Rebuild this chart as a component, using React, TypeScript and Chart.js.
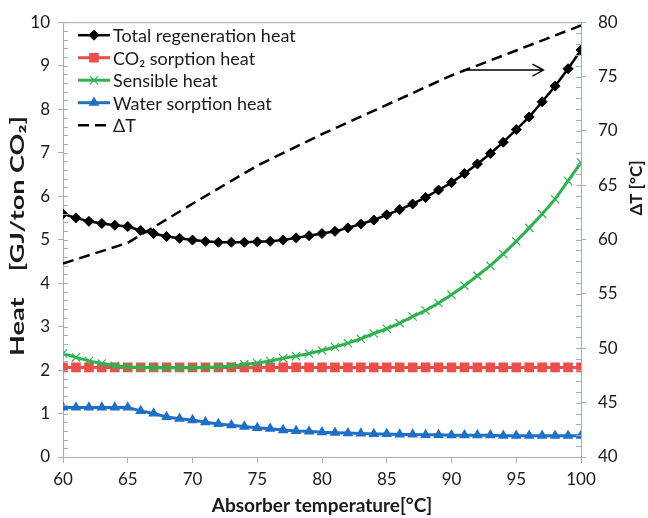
import React, { useEffect, useRef } from 'react';
import { Chart, registerables } from 'chart.js';
import { drawPoint } from 'chart.js/helpers';

Chart.register(...registerables);

// ---------------- data ----------------
const temperatures = [
  60, 61, 62, 63, 64, 65, 66, 67, 68, 69, 70, 71, 72, 73, 74, 75, 76, 77, 78, 79, 80,
  81, 82, 83, 84, 85, 86, 87, 88, 89, 90, 91, 92, 93, 94, 95, 96, 97, 98, 99, 100,
];
const totalRegenerationHeat = [
  5.59, 5.5, 5.42, 5.37, 5.33, 5.3, 5.21, 5.14, 5.07, 5.03, 4.99, 4.96, 4.94, 4.94, 4.94, 4.95, 4.96, 4.99, 5.04, 5.09, 5.14,
  5.19, 5.27, 5.36, 5.45, 5.57, 5.69, 5.82, 5.97, 6.14, 6.31, 6.52, 6.74, 6.98, 7.24, 7.53, 7.82, 8.17, 8.53, 8.93, 9.36,
];
const co2SorptionHeat = [
  2.06, 2.06, 2.06, 2.06, 2.06, 2.06, 2.06, 2.06, 2.06, 2.06, 2.06, 2.06, 2.06, 2.06, 2.06, 2.06, 2.06, 2.06, 2.06, 2.06, 2.06,
  2.06, 2.06, 2.06, 2.06, 2.06, 2.06, 2.06, 2.06, 2.06, 2.06, 2.06, 2.06, 2.06, 2.06, 2.06, 2.06, 2.06, 2.06, 2.06, 2.06,
];
const sensibleHeat = [
  2.38, 2.29, 2.21, 2.15, 2.1, 2.07, 2.06, 2.05, 2.05, 2.05, 2.05, 2.06, 2.07, 2.09, 2.13, 2.16, 2.21, 2.27, 2.32, 2.38, 2.45,
  2.53, 2.62, 2.72, 2.84, 2.95, 3.08, 3.23, 3.37, 3.54, 3.73, 3.94, 4.17, 4.4, 4.67, 4.96, 5.27, 5.59, 5.93, 6.35, 6.77,
];
const waterSorptionHeat = [
  1.14, 1.14, 1.14, 1.14, 1.14, 1.14, 1.06, 1.0, 0.92, 0.88, 0.85, 0.8, 0.76, 0.73, 0.7, 0.67, 0.65, 0.62, 0.6, 0.59, 0.57,
  0.56, 0.55, 0.54, 0.53, 0.53, 0.52, 0.52, 0.51, 0.51, 0.5, 0.5, 0.5, 0.5, 0.49, 0.49, 0.49, 0.49, 0.49, 0.49, 0.49,
];
const deltaTTemperatures = [60, 65, 70, 75, 80, 85, 90, 95, 100];
const deltaT = [57.8, 59.7, 63.3, 66.8, 69.7, 72.4, 75.1, 77.4, 79.7];

const seriesLabels = ['Total regeneration heat', 'CO\u2082 sorption heat', 'Sensible heat', 'Water sorption heat', '\u0394T'];

// arrow annotation (x in °C, y on the ΔT axis)
const arrowFrom = [90.9, 75.6];
const arrowTo = [97.1, 75.6];

const xTitle = 'Absorber temperature[\u00B0C]';
const yTitle = 'Heat    [GJ/ton CO\u2082]';
const y2Title = '\u0394T [\u00B0C]';

// ---------------- styles ----------------
const FONT = 'Lato, "Open Sans", sans-serif';
const AXIS_COLOR = '#9db1c6';
const TEXT_COLOR = '#1a1a1a';

const toPoints = (xs: number[], ys: number[]) => xs.map((x, i) => ({ x, y: ys[i] }));

const frameAndTicksPlugin = {
  id: 'frameAndTicks',
  afterDraw(chart: any) {
    const { ctx, chartArea, scales } = chart;
    const { y, y2 } = scales;
    ctx.save();
    ctx.strokeStyle = AXIS_COLOR;
    ctx.lineWidth = 1;
    ctx.beginPath();
    ctx.moveTo(chartArea.left, chartArea.top + 0.5);
    ctx.lineTo(chartArea.right, chartArea.top + 0.5);
    const nL = Math.round((y.max - y.min) / 0.2);
    for (let i = 0; i <= nL; i++) {
      const py = Math.round(y.getPixelForValue(y.min + i * 0.2)) + 0.5;
      ctx.moveTo(chartArea.left, py);
      ctx.lineTo(chartArea.left + 5, py);
    }
    const nR = Math.round(y2.max - y2.min);
    for (let i = 0; i <= nR; i++) {
      const py = Math.round(y2.getPixelForValue(y2.min + i)) + 0.5;
      ctx.moveTo(chartArea.right, py);
      ctx.lineTo(chartArea.right - 5, py);
    }
    ctx.stroke();
    ctx.restore();
  },
};

const arrowPlugin = {
  id: 'arrowNote',
  afterDatasetsDraw(chart: any) {
    const { ctx, scales } = chart;
    const { x, y2 } = scales;
    const x1 = x.getPixelForValue(arrowFrom[0]);
    const y1 = y2.getPixelForValue(arrowFrom[1]);
    const x2 = x.getPixelForValue(arrowTo[0]);
    const yy2 = y2.getPixelForValue(arrowTo[1]);
    ctx.save();
    ctx.strokeStyle = '#000';
    ctx.lineWidth = 1.4;
    ctx.beginPath();
    ctx.moveTo(x1, y1);
    ctx.lineTo(x2, yy2);
    ctx.moveTo(x2 - 11, yy2 - 6);
    ctx.lineTo(x2, yy2);
    ctx.lineTo(x2 - 11, yy2 + 6);
    ctx.stroke();
    ctx.restore();
  },
};

const titlesPlugin = {
  id: 'sideTitles',
  afterDraw(chart: any) {
    const { ctx, scales } = chart;
    const { y, y2 } = scales;
    ctx.save();
    ctx.fillStyle = TEXT_COLOR;
    ctx.textAlign = 'center';
    ctx.textBaseline = 'alphabetic';
    ctx.font = `bold 18px ${FONT}`;
    const w = ctx.measureText(yTitle).width;
    ctx.save();
    ctx.translate(y.left + 24, 236);
    ctx.rotate(-Math.PI / 2);
    ctx.scale(240 / w, 1);
    ctx.fillText(yTitle, 0, 0);
    ctx.restore();
    ctx.font = `bold 17px ${FONT}`;
    ctx.save();
    ctx.translate(y2.right - 6, 188);
    ctx.rotate(-Math.PI / 2);
    ctx.fillText(y2Title, 0, 0);
    ctx.restore();
    ctx.restore();
  },
};

const legendPlugin = {
  id: 'customLegend',
  afterDraw(chart: any) {
    const { ctx, chartArea } = chart;
    const x0 = chartArea.left + 15;
    const lineLen = 32;
    const y0 = chartArea.top + 13;
    const rowH = 22.5;
    chart.data.datasets.forEach((ds: any, row: number) => {
      const yy = y0 + row * rowH;
      ctx.save();
      ctx.strokeStyle = ds.borderColor;
      ctx.lineWidth = ds.borderWidth;
      ctx.setLineDash(ds.borderDash || []);
      ctx.beginPath();
      ctx.moveTo(x0, yy);
      ctx.lineTo(x0 + lineLen, yy);
      ctx.stroke();
      ctx.setLineDash([]);
      if (ds.pointRadius > 0) {
        ctx.fillStyle = ds.pointBackgroundColor;
        ctx.strokeStyle = ds.pointBorderColor;
        ctx.lineWidth = ds.pointBorderWidth;
        drawPoint(ctx, { pointStyle: ds.pointStyle, radius: ds.pointRadius, borderWidth: ds.pointBorderWidth, rotation: 0 } as any, x0 + lineLen / 2, yy);
      }
      ctx.fillStyle = TEXT_COLOR;
      ctx.font = `18px ${FONT}`;
      ctx.textBaseline = 'middle';
      ctx.textAlign = 'left';
      ctx.fillText(ds.label, x0 + lineLen + 3, yy + 1);
      ctx.restore();
    });
  },
};

export default function App() {
  const canvasRef = useRef<HTMLCanvasElement | null>(null);

  useEffect(() => {
    const canvas = canvasRef.current;
    if (!canvas) return;
    const BLACK = '#000000';
    const RED = '#e9504b';
    const GREEN = '#2fb14f';
    const BLUE = '#1f6fc5';

    const chart = new Chart(canvas, {
      type: 'line',
      data: {
        datasets: [
          {
            label: seriesLabels[0],
            data: toPoints(temperatures, totalRegenerationHeat),
            borderColor: BLACK,
            backgroundColor: BLACK,
            borderWidth: 2.5,
            pointStyle: 'rectRot',
            pointRadius: 5,
            pointBackgroundColor: BLACK,
            pointBorderColor: BLACK,
            pointBorderWidth: 1,
            yAxisID: 'y',
            order: 0,
          },
          {
            label: seriesLabels[1],
            data: toPoints(temperatures, co2SorptionHeat),
            borderColor: RED,
            backgroundColor: RED,
            borderWidth: 3,
            pointStyle: 'rect',
            pointRadius: 6.8,
            pointBackgroundColor: RED,
            pointBorderColor: RED,
            pointBorderWidth: 0,
            yAxisID: 'y',
            order: 3,
          },
          {
            label: seriesLabels[2],
            data: toPoints(temperatures, sensibleHeat),
            borderColor: GREEN,
            backgroundColor: GREEN,
            borderWidth: 3,
            pointStyle: 'crossRot',
            pointRadius: 5.8,
            pointBackgroundColor: GREEN,
            pointBorderColor: GREEN,
            pointBorderWidth: 1.2,
            yAxisID: 'y',
            order: 1,
          },
          {
            label: seriesLabels[3],
            data: toPoints(temperatures, waterSorptionHeat),
            borderColor: BLUE,
            backgroundColor: BLUE,
            borderWidth: 3,
            pointStyle: 'triangle',
            pointRadius: 6.2,
            pointBackgroundColor: BLUE,
            pointBorderColor: BLUE,
            pointBorderWidth: 0,
            yAxisID: 'y',
            order: 2,
          },
          {
            label: seriesLabels[4],
            data: toPoints(deltaTTemperatures, deltaT),
            borderColor: BLACK,
            backgroundColor: BLACK,
            borderWidth: 2.5,
            borderDash: [11, 6],
            pointRadius: 0,
            pointBackgroundColor: BLACK,
            pointBorderColor: BLACK,
            pointBorderWidth: 0,
            yAxisID: 'y2',
            order: 4,
          },
        ] as any,
      },
      options: {
        responsive: false,
        animation: false,
        events: [],
        layout: { padding: { top: 22, left: 0, right: 0, bottom: 0 } },
        elements: { line: { tension: 0 } },
        plugins: { legend: { display: false }, tooltip: { enabled: false } },
        scales: {
          x: {
            type: 'linear',
            min: 60,
            max: 100,
            ticks: { stepSize: 5, color: TEXT_COLOR, font: { family: FONT, size: 17 }, padding: 6 },
            grid: { display: true, drawOnChartArea: false, drawTicks: true, tickLength: 6, color: AXIS_COLOR },
            border: { display: true, color: AXIS_COLOR, width: 1 },
            title: {
              display: true,
              text: xTitle,
              color: TEXT_COLOR,
              font: { family: FONT, size: 19, weight: 'bold' },
              padding: { top: 0, bottom: 1 },
            },
            afterFit: (s: any) => {
              s.height = 61;
            },
          },
          y: {
            type: 'linear',
            position: 'left',
            min: 0,
            max: 10,
            ticks: { stepSize: 1, color: TEXT_COLOR, font: { family: FONT, size: 17 }, padding: 8 },
            grid: { display: true, drawOnChartArea: false, drawTicks: true, tickLength: 5, color: AXIS_COLOR },
            border: { display: true, color: AXIS_COLOR, width: 1 },
            afterFit: (s: any) => {
              s.width = 63;
            },
          },
          y2: {
            type: 'linear',
            position: 'right',
            min: 40,
            max: 80,
            ticks: { stepSize: 5, color: TEXT_COLOR, font: { family: FONT, size: 17 }, padding: 12 },
            grid: { display: true, drawOnChartArea: false, drawTicks: true, tickLength: 5, color: AXIS_COLOR },
            border: { display: true, color: AXIS_COLOR, width: 1 },
            afterFit: (s: any) => {
              s.width = 67;
            },
          },
        },
      } as any,
      plugins: [frameAndTicksPlugin, arrowPlugin, titlesPlugin, legendPlugin],
    });
    return () => chart.destroy();
  }, []);

  return (
    <div style={{ position: 'fixed', left: 0, top: 0, width: 648, height: 518, background: '#ffffff' }}>
      <canvas ref={canvasRef} width={648} height={518} style={{ display: 'block', width: 648, height: 518 }} />
    </div>
  );
}
